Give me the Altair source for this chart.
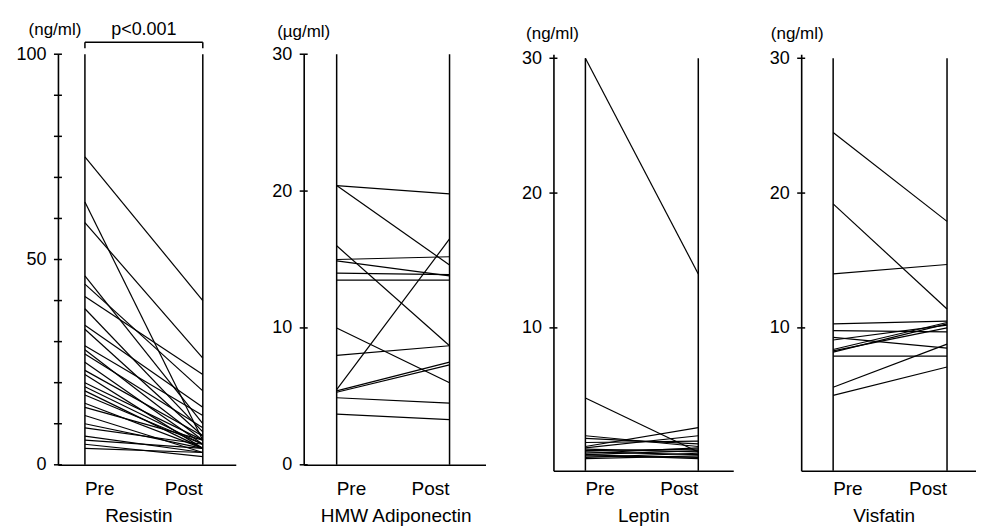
import altair as alt
import pandas as pd

FONT = "Liberation Sans"

# ---------------- data ----------------
time_labels = ["Pre", "Post"]

resistin_pre = [75, 64, 59, 46, 44, 41, 38, 34, 33, 29, 28, 27, 25, 23, 22, 20, 19, 18, 17, 15, 14, 12, 10, 9, 7, 6, 5, 4]
resistin_post = [40, 6, 26, 10, 18, 22, 8, 14, 7, 12, 6, 9, 5, 7, 4, 6, 5, 4, 5, 4, 6, 3, 4, 5, 3, 4, 2, 3]

adipo_pre = [20.4, 20.4, 16.0, 15.0, 14.9, 14.0, 13.5, 10.0, 8.0, 5.5, 5.4, 5.3, 4.9, 3.7]
adipo_post = [19.8, 14.6, 8.7, 15.2, 13.8, 13.9, 13.5, 6.0, 8.7, 16.5, 7.5, 7.3, 4.5, 3.3]

leptin_pre = [30.0, 4.8, 2.0, 1.8, 1.5, 1.2, 1.1, 1.0, 0.9, 0.8, 0.7, 0.6, 0.6, 0.5, 0.4, 0.3]
leptin_post = [14.0, 0.8, 1.2, 1.4, 1.6, 2.6, 2.0, 0.8, 1.0, 0.6, 1.1, 0.9, 0.3, 0.4, 0.7, 0.5]

visfatin_pre = [24.5, 19.2, 14.0, 10.3, 9.8, 9.3, 9.1, 8.4, 8.3, 8.2, 7.9, 5.6, 5.0]
visfatin_post = [17.9, 11.4, 14.7, 10.5, 9.7, 8.5, 10.2, 10.4, 10.0, 10.3, 7.9, 8.8, 7.1]

resistin_ticks = [0, 10, 20, 30, 40, 50, 60, 70, 80, 90, 100]
resistin_labels = [0, 50, 100]
adipo_ticks = [0, 10, 20, 30]
adipo_labels = [0, 10, 20, 30]
leptin_ticks = [10, 20, 30]
leptin_labels = [10, 20, 30]
visfatin_ticks = [10, 20, 30]
visfatin_labels = [10, 20, 30]


def panel(name, unit, pre, post, ydom, ytop, ticks, labels, height, width,
          p0, p1, title_x, title_y, name_dx, bracket_text=None):
    span = p1 - p0
    xscale = alt.Scale(domain=[-p0 / span, (width - p0) / span], nice=False, zero=False)
    yscale = alt.Scale(domain=ydom, nice=False, zero=False)
    xaxis = alt.Axis(domain=True, domainColor="black", domainWidth=1.6,
                     ticks=False, labels=False, grid=False, title=None)
    yaxis = alt.Axis(values=labels, ticks=False, domain=True,
                     domainColor="black", domainWidth=1.6, grid=False,
                     labelFontSize=18, labelFont=FONT, labelColor="black",
                     labelPadding=12,
                     title=unit, titleAngle=0, titleAlign="center",
                     titleBaseline="alphabetic", titleX=title_x, titleY=title_y,
                     titleFontSize=17, titleFont=FONT,
                     titleFontWeight="normal", titleColor="black")

    def X(field):
        return alt.X(field, scale=xscale, axis=xaxis)

    def Y(field):
        return alt.Y(field, scale=yscale, axis=yaxis)

    rows = []
    for i, (a, b) in enumerate(zip(pre, post)):
        rows.append({"id": i, "t": 0, "v": a})
        rows.append({"id": i, "t": 1, "v": b})
    df = pd.DataFrame(rows)

    lines = alt.Chart(df).mark_line(color="black", strokeWidth=1.2).encode(
        x=X("t:Q"), y=Y("v:Q"), detail="id:N",
    )

    vdf = pd.DataFrame({"t": [0, 1], "v": [ytop, ytop], "bot": [ydom[0], ydom[0]]})
    verticals = alt.Chart(vdf).mark_rule(color="black", strokeWidth=1.5).encode(
        x=X("t:Q"), y=Y("v:Q"), y2="bot:Q",
    )

    tdf = pd.DataFrame({"v": ticks})
    tickmarks = alt.Chart(tdf).mark_rule(color="black", strokeWidth=1.5).encode(
        y=Y("v:Q"), x=alt.value(-4), x2=alt.value(4),
    )

    pre_df = pd.DataFrame({"t": [0], "lab": [time_labels[0]]})
    post_df = pd.DataFrame({"t": [1], "lab": [time_labels[1]]})
    pre_txt = alt.Chart(pre_df).mark_text(align="left", baseline="alphabetic",
                                          fontSize=19, font=FONT, color="black").encode(
        x=X("t:Q"), y=alt.value(441), text="lab:N")
    post_txt = alt.Chart(post_df).mark_text(align="right", baseline="alphabetic",
                                            fontSize=19, font=FONT, color="black").encode(
        x=X("t:Q"), y=alt.value(441), text="lab:N")

    name_df = pd.DataFrame({"t": [0.5], "lab": [name]})
    name_txt = alt.Chart(name_df).mark_text(align="center", baseline="alphabetic",
                                            fontSize=19, font=FONT, color="black",
                                            dx=name_dx).encode(
        x=X("t:Q"), y=alt.value(468), text="lab:N")

    layers = [verticals, lines, tickmarks, pre_txt, post_txt, name_txt]

    if bracket_text is not None:
        bdf = pd.DataFrame({"t": [0], "t1": [1]})
        bar = alt.Chart(bdf).mark_rule(color="black", strokeWidth=1.5).encode(
            x=X("t:Q"), x2="t1:Q", y=alt.value(-12))
        edf = pd.DataFrame({"t": [0, 1]})
        ends = alt.Chart(edf).mark_rule(color="black", strokeWidth=1.5).encode(
            x=X("t:Q"), y=alt.value(-12), y2=alt.value(-6))
        pdf = pd.DataFrame({"t": [0.5], "lab": [bracket_text]})
        ptxt = alt.Chart(pdf).mark_text(align="center", baseline="alphabetic",
                                        fontSize=18, font=FONT, color="black").encode(
            x=X("t:Q"), y=alt.value(-19), text="lab:N")
        layers += [bar, ends, ptxt]

    return alt.layer(*layers).properties(width=width, height=height)


p1 = panel("Resistin", "(ng/ml)", resistin_pre, resistin_post, [0, 100], 100,
           resistin_ticks, resistin_labels, 411, 178, 27, 145, -3.5, -20, -5,
           bracket_text="p<0.001")
p2 = panel("HMW Adiponectin", "(µg/ml)", adipo_pre, adipo_post, [0, 30], 30,
           adipo_ticks, adipo_labels, 411, 182, 33, 146, -0.5, -18, 3)
p3 = panel("Leptin", "(ng/ml)", leptin_pre, leptin_post, [-0.6, 30.3], 30,
           leptin_ticks, leptin_labels, 417, 180, 32, 145, -1.5, -16, 2)
p4 = panel("Visfatin", "(ng/ml)", visfatin_pre, visfatin_post, [-0.6, 30.3], 30,
           visfatin_ticks, visfatin_labels, 417, 175, 32, 146, -4.5, -16, -6)

chart = alt.hconcat(p1, p2, p3, p4, spacing=68, bounds="flush").properties(
    padding={"left": 7, "top": 12, "right": 0, "bottom": 0},
    background="white",
).configure_view(stroke=None)

chart.save("out.html", embed_options={"renderer": "svg", "actions": False})
